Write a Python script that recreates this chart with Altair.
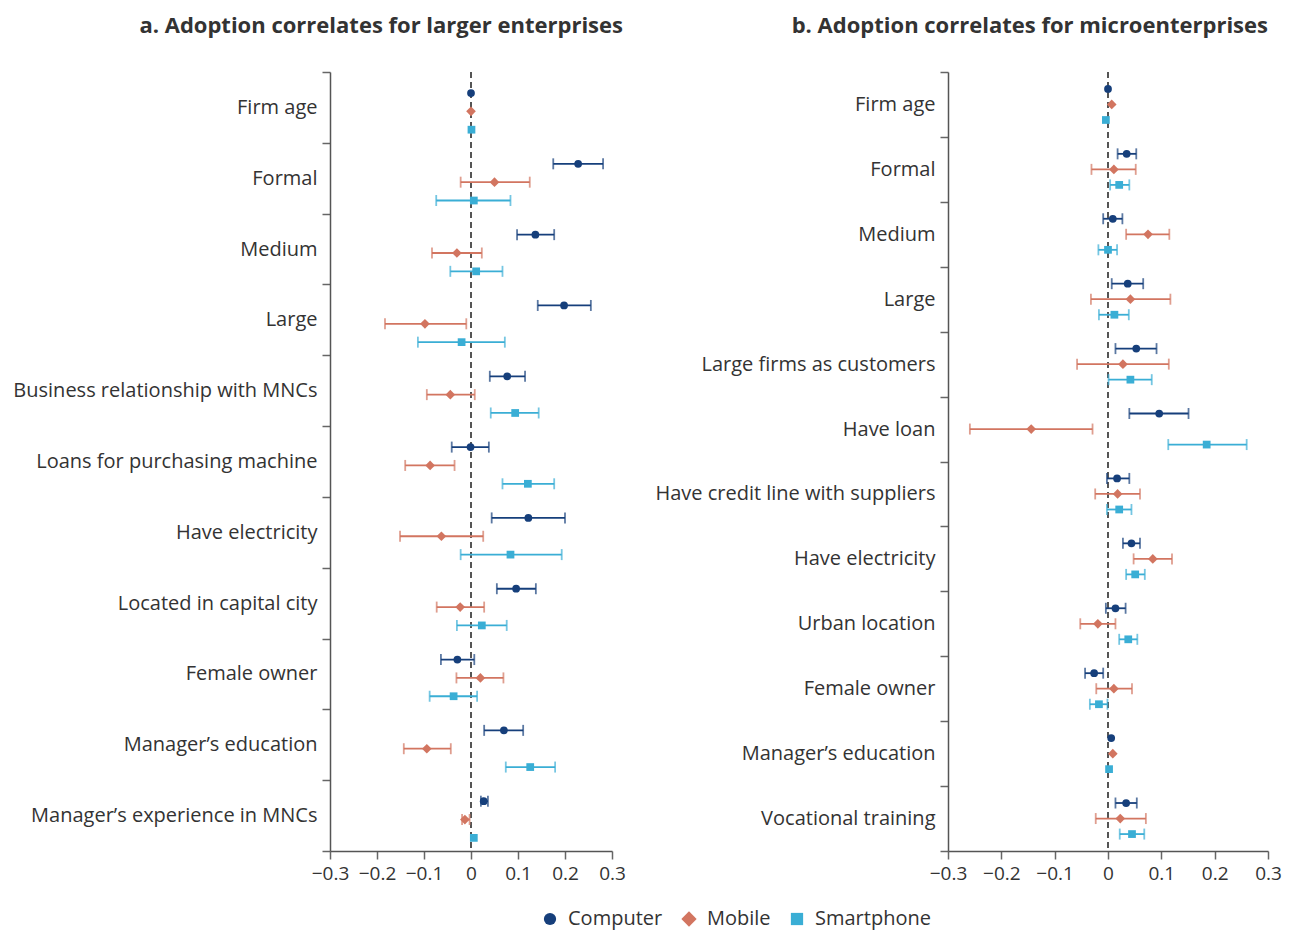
import altair as alt
import pandas as pd

series = ["Computer", "Mobile", "Smartphone"]
colors = ["#163f7b", "#d27560", "#3aaed5"]
shapes = ["circle", "M0,-1.25L1.25,0L0,1.25L-1.25,0Z", "square"]

cats_a = ["Firm age", "Formal", "Medium", "Large", "Business relationship with MNCs",
          "Loans for purchasing machine", "Have electricity", "Located in capital city",
          "Female owner", "Manager’s education", "Manager’s experience in MNCs"]
a_comp = [0.0, 0.228, 0.137, 0.198, 0.077, -0.001, 0.122, 0.096, -0.029, 0.070, 0.027]
a_comp_lo = [None, 0.175, 0.098, 0.142, 0.040, -0.041, 0.044, 0.055, -0.064, 0.028, 0.021]
a_comp_hi = [None, 0.281, 0.177, 0.255, 0.115, 0.038, 0.200, 0.138, 0.007, 0.111, 0.036]
a_mob = [0.0, 0.050, -0.030, -0.098, -0.044, -0.087, -0.063, -0.023, 0.020, -0.094, -0.013]
a_mob_lo = [None, -0.022, -0.083, -0.183, -0.094, -0.140, -0.151, -0.073, -0.031, -0.143, -0.019]
a_mob_hi = [None, 0.125, 0.023, -0.010, 0.008, -0.035, 0.026, 0.028, 0.069, -0.043, -0.003]
a_sph = [0.001, 0.006, 0.011, -0.020, 0.094, 0.121, 0.084, 0.023, -0.037, 0.126, 0.006]
a_sph_lo = [None, -0.074, -0.044, -0.113, 0.042, 0.067, -0.022, -0.030, -0.088, 0.074, None]
a_sph_hi = [None, 0.084, 0.067, 0.072, 0.144, 0.177, 0.193, 0.076, 0.013, 0.179, None]

cats_b = ["Firm age", "Formal", "Medium", "Large", "Large firms as customers", "Have loan",
          "Have credit line with suppliers", "Have electricity", "Urban location",
          "Female owner", "Manager’s education", "Vocational training"]
b_comp = [0.0, 0.035, 0.009, 0.037, 0.053, 0.096, 0.017, 0.044, 0.014, -0.026, 0.006, 0.034]
b_comp_lo = [None, 0.018, -0.009, 0.007, 0.014, 0.040, -0.002, 0.028, -0.004, -0.043, None, 0.014]
b_comp_hi = [None, 0.053, 0.027, 0.066, 0.091, 0.151, 0.040, 0.060, 0.033, -0.009, None, 0.054]
b_mob = [0.007, 0.011, 0.075, 0.042, 0.028, -0.144, 0.018, 0.084, -0.019, 0.011, 0.009, 0.023]
b_mob_lo = [None, -0.031, 0.034, -0.032, -0.058, -0.259, -0.024, 0.048, -0.052, -0.022, None, -0.023]
b_mob_hi = [None, 0.052, 0.115, 0.117, 0.114, -0.029, 0.060, 0.120, 0.014, 0.045, None, 0.071]
b_sph = [-0.004, 0.021, 0.0, 0.012, 0.042, 0.185, 0.021, 0.051, 0.038, -0.017, 0.002, 0.045]
b_sph_lo = [None, 0.004, -0.018, -0.017, 0.001, 0.113, -0.002, 0.034, 0.021, -0.034, None, 0.022]
b_sph_hi = [None, 0.040, 0.017, 0.039, 0.082, 0.260, 0.044, 0.069, 0.055, -0.001, None, 0.068]


def build(cats, vals):
    rows = []
    for s, (est, lo, hi) in zip(series, vals):
        for c, e, l, h in zip(cats, est, lo, hi):
            rows.append({"cat": c, "series": s, "est": e, "lo": l, "hi": h})
    return pd.DataFrame(rows)


df_a = build(cats_a, [(a_comp, a_comp_lo, a_comp_hi), (a_mob, a_mob_lo, a_mob_hi),
                      (a_sph, a_sph_lo, a_sph_hi)])
df_b = build(cats_b, [(b_comp, b_comp_lo, b_comp_hi), (b_mob, b_mob_lo, b_mob_hi),
                      (b_sph, b_sph_lo, b_sph_hi)])

FONT = "Open Sans"
TXT = "#333333"

legend = alt.Legend(orient="none", legendX=210, legendY=837, direction="horizontal",
                    title=None, labelFontSize=20, labelFont=FONT, labelColor=TXT,
                    symbolSize=150, symbolStrokeWidth=0, symbolOpacity=1,
                    columnPadding=16, labelOffset=8)


def panel(df, cats, title, width, po, al, dx, minext):
    xscale = alt.Scale(domain=[-0.3, 0.3], nice=False, zero=False)
    xaxis = alt.Axis(title=None, values=[-0.3, -0.2, -0.1, 0, 0.1, 0.2, 0.3],
                     labelExpr="datum.value == 0 ? '0' : replace(format(datum.value, '.1f'), '-', '\u2212')",
                     grid=False, tickSize=8, labelFontSize=19, labelFont=FONT, labelColor=TXT,
                     domainColor="#555555", tickColor="#666666", domainWidth=1.5, tickWidth=1.5,
                     labelPadding=5, labelOverlap=False, labelBound=False, labelFlush=False)
    y = alt.Y("cat:N", sort=cats, scale=alt.Scale(domain=cats, paddingInner=0, paddingOuter=0),
              axis=alt.Axis(title=None, tickBand="extent", labelFontSize=20, labelFont=FONT,
                            labelColor=TXT, domainColor="#555555", tickColor="#666666",
                            tickSize=8, labelPadding=5, labelLimit=400, minExtent=minext,
                            domainWidth=1.5, tickWidth=1.5))
    yo = alt.YOffset("series:N", sort=series,
                     scale=alt.Scale(domain=series, paddingInner=0, paddingOuter=po, align=al))
    color = alt.Color("series:N", sort=series, scale=alt.Scale(domain=series, range=colors),
                      legend=legend)
    shape = alt.Shape("series:N", sort=series, scale=alt.Scale(domain=series, range=shapes),
                      legend=legend)
    base = alt.Chart(df)
    zero = base.mark_rule(strokeDash=[6, 4], color="#555555", strokeWidth=2).encode(
        x=alt.datum(0, scale=xscale, axis=xaxis))
    rules = base.transform_filter("isValid(datum.lo)").mark_rule(strokeWidth=1.8).encode(
        x=alt.X("lo:Q", scale=xscale, axis=xaxis), x2="hi:Q", y=y, yOffset=yo, color=color)
    caps = base.transform_filter("isValid(datum.lo)").transform_fold(
        ["lo", "hi"], as_=["end", "ci"]).mark_tick(orient="vertical", size=11, thickness=1.8).encode(
        x=alt.X("ci:Q", scale=xscale, axis=xaxis), y=y, yOffset=yo, color=color)
    pts = base.mark_point(filled=True, opacity=1, size=60).encode(
        x=alt.X("est:Q", scale=xscale, axis=xaxis), y=y, yOffset=yo, color=color, shape=shape)
    return alt.layer(zero, rules, caps, pts).properties(
        width=width, height=779,
        title=alt.TitleParams(title, anchor="end", frame="group", fontSize=22, fontWeight="bold",
                              font=FONT, color=TXT, offset=24, dx=dx))


left = panel(df_a, cats_a, "a. Adoption correlates for larger enterprises", 282, 0.43, 0.75, 11, 322)
right = panel(df_b, cats_b, "b. Adoption correlates for microenterprises", 320, 0.59, 0.5, 0, 10)

chart = alt.hconcat(left, right, spacing=336, bounds="flush").resolve_scale(
    yOffset="independent", y="independent", x="independent"
).properties(
    padding={"left": 0, "top": 7, "right": 0, "bottom": 15}
).configure(font=FONT).configure_view(strokeWidth=0, stroke=None)

chart.save("out.html", embed_options={"renderer": "svg", "actions": False})
